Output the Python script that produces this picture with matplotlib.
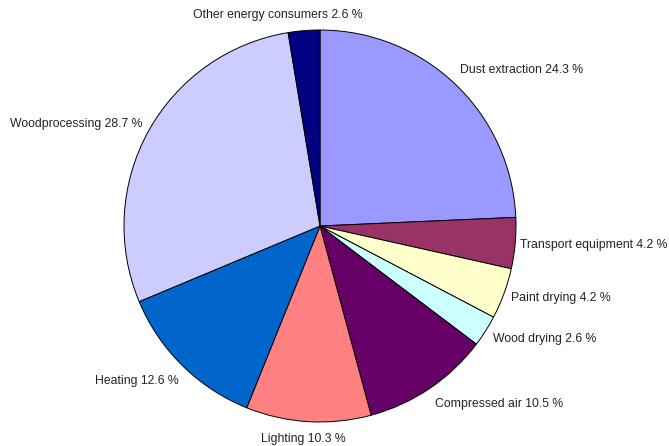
import matplotlib
matplotlib.use("Agg")
import matplotlib.pyplot as plt

categories = ["Dust extraction", "Transport equipment", "Paint drying", "Wood drying",
              "Compressed air", "Lighting", "Heating", "Woodprocessing",
              "Other energy consumers"]
values = [24.3, 4.2, 4.2, 2.6, 10.5, 10.3, 12.6, 28.7, 2.6]
colors = ["#9999FF", "#993366", "#FFFFCC", "#CCFFFF", "#660066",
          "#FF8080", "#0066CC", "#CCCCFF", "#000080"]

# label layout (x, y, horizontal alignment) in axes data units
label_layout = [(140, 156, "left"), (200, -19, "left"), (191, -72, "left"),
                (173, -113, "left"), (115, -178, "left"), (-17, -213, "center"),
                (-141, -155, "right"), (-178, 102, "right"), (-42, 211, "center")]

plt.rcParams["font.family"] = ["Liberation Sans", "DejaVu Sans"]
fig = plt.figure(figsize=(6.69, 4.46), dpi=100)
ax = fig.add_axes([0, 0, 1, 1])
ax.pie(values, colors=colors, startangle=90, counterclock=False, radius=196,
       center=(0, 0), wedgeprops=dict(edgecolor="#000000", linewidth=0.7),
       frame=True)
ax.set_xlim(-320, 349)
ax.set_ylim(-220, 226)
ax.set_aspect("equal")
ax.axis("off")

for cat, val, (x, y, ha) in zip(categories, values, label_layout):
    ax.text(x, y, f"{cat} {val:.1f} %", ha=ha, va="center", fontsize=8.8,
            color="#222222")

fig.savefig("out.png", dpi=100)
